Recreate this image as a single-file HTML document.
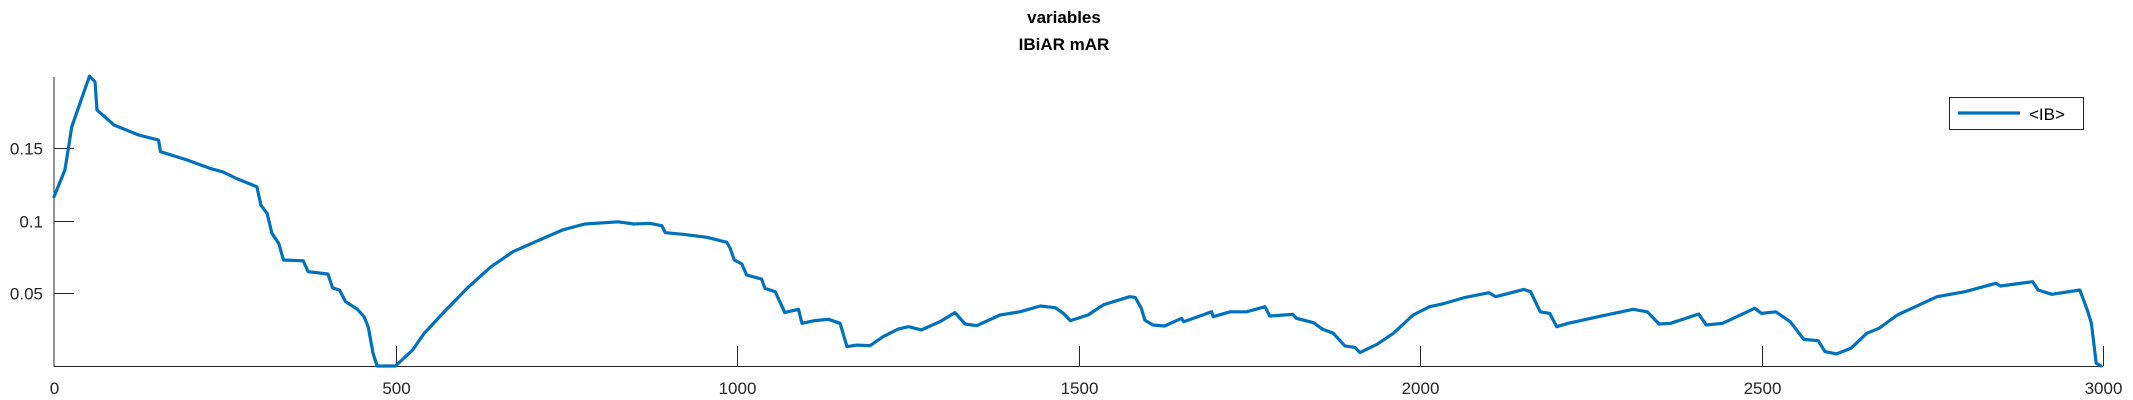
<!DOCTYPE html>
<html><head><meta charset="utf-8"><style>
html,body{margin:0;padding:0;background:#fff;}
svg{display:block;font-family:"Liberation Sans",sans-serif;}
</style></head><body>
<svg id="chart" width="2133" height="400" viewBox="0 0 2133 400" xmlns="http://www.w3.org/2000/svg">
<text x="1064" y="23" text-anchor="middle" font-size="17" font-weight="bold" fill="#000">variables</text>
<text x="1064" y="50" text-anchor="middle" font-size="17" font-weight="bold" fill="#000">IBiAR mAR</text>
<g id="axes"></g>
<path id="series" fill="none" stroke="#0072BD" stroke-width="3.2" stroke-linejoin="round" stroke-linecap="round"/>
<g>
<rect x="1949.5" y="97.5" width="134" height="32" fill="#fff" stroke="#262626" stroke-width="1"/>
<line x1="1958" y1="113" x2="2020" y2="113" stroke="#0072BD" stroke-width="3.2"/>
<text x="2029" y="120" font-size="17" fill="#000">&lt;IB&gt;</text>
</g>
</svg>
<script>
const xTicks = [0, 500, 1000, 1500, 2000, 2500, 3000];
const yTicks = [0.05, 0.1, 0.15];
const yTickLabels = ["0.05", "0.1", "0.15"];
const seriesX = [0,16,26,52,60,63,88,124,153,156,195,228,247,267,297,303,312,319,329,336,365,372,401,408,418,427,444,454,460,467,473,500,525,542,574,607,640,672,705,744,777,826,849,873,890,895,921,956,985,990,996,1007,1014,1036,1041,1056,1070,1090,1095,1114,1134,1151,1161,1175,1195,1214,1236,1251,1270,1297,1319,1334,1351,1385,1414,1444,1466,1478,1488,1514,1536,1575,1583,1592,1597,1609,1626,1651,1654,1695,1697,1722,1746,1773,1780,1814,1819,1844,1858,1873,1890,1905,1912,1937,1961,1990,2014,2032,2066,2101,2111,2152,2162,2176,2190,2200,2217,2261,2312,2333,2350,2367,2408,2419,2443,2490,2500,2521,2542,2562,2583,2593,2610,2631,2654,2672,2699,2757,2798,2843,2850,2897,2905,2925,2966,2977,2983,2990,2997];
const seriesY = [0.1164,0.1348,0.1646,0.1994,0.1955,0.176,0.1657,0.1589,0.1554,0.1474,0.1417,0.136,0.1336,0.129,0.1233,0.1107,0.105,0.0913,0.0844,0.0729,0.0724,0.0649,0.0633,0.0536,0.0523,0.0442,0.0391,0.0339,0.027,0.0089,0,0,0.011,0.0225,0.0385,0.0545,0.0683,0.0786,0.0855,0.0935,0.0977,0.0992,0.0977,0.0981,0.0965,0.0917,0.0906,0.0885,0.0851,0.0809,0.0729,0.0702,0.0626,0.0598,0.0534,0.0511,0.0367,0.039,0.0294,0.0312,0.0321,0.0294,0.0133,0.0144,0.014,0.0202,0.0254,0.027,0.0248,0.0305,0.0367,0.0289,0.0277,0.0351,0.0373,0.0413,0.0401,0.0362,0.0312,0.0351,0.042,0.0477,0.0472,0.0397,0.0316,0.0282,0.0275,0.0328,0.0305,0.0373,0.0339,0.0373,0.0373,0.0408,0.0344,0.0355,0.0328,0.0298,0.0252,0.0225,0.0138,0.0128,0.0092,0.0149,0.0225,0.0351,0.0408,0.0426,0.0472,0.0504,0.0477,0.0527,0.0511,0.0373,0.0362,0.027,0.0294,0.0339,0.039,0.0373,0.0289,0.0294,0.0358,0.0282,0.0294,0.0397,0.0362,0.0373,0.0305,0.0183,0.0174,0.0099,0.0083,0.0122,0.0225,0.0259,0.0351,0.0477,0.0511,0.0569,0.055,0.058,0.0523,0.0493,0.0523,0.0385,0.0294,0.0019,0];

const X0 = 54, X1 = 2103, Y0 = 366, YTOP = 77;
const xMax = 3000, yMax = 0.1988;
const sx = v => X0 + v / xMax * (X1 - X0);
const sy = v => Y0 - v / yMax * (Y0 - YTOP);
const NS = "http://www.w3.org/2000/svg";
const axes = document.getElementById('axes');
function mk(tag, attrs) { const e = document.createElementNS(NS, tag); for (const k in attrs) e.setAttribute(k, attrs[k]); axes.appendChild(e); return e; }

let el = mk('line', {x1: X0, y1: YTOP, x2: X0, y2: Y0 + 0.5, stroke: '#262626', 'stroke-width': 1});


el = mk('line', {x1: X0, y1: Y0 + 0.5, x2: X1, y2: Y0 + 0.5, stroke: '#262626', 'stroke-width': 1});



xTicks.forEach(t => {
  const x = Math.round(sx(t)) + 0.5;
  if (t !== 0) {
    const tk = mk('line', {x1: x, y1: Y0, x2: x, y2: Y0 - 20, stroke: '#262626', 'stroke-width': 1});
    
    
  }
  const lb = mk('text', {x: x, y: 394, 'text-anchor': 'middle', 'font-size': 17, fill: '#262626'});
  lb.textContent = String(t);
  
  
});
yTicks.forEach((t, i) => {
  const y = Math.round(sy(t)) + 0.5;
  const tk = mk('line', {x1: X0, y1: y, x2: X0 + 20, y2: y, stroke: '#262626', 'stroke-width': 1});
  
  
  const lb = mk('text', {x: 43, y: y + 6, 'text-anchor': 'end', 'font-size': 17, fill: '#262626'});
  lb.textContent = yTickLabels[i];
  
  
});

let d = '';
seriesX.forEach((v, i) => { d += (i ? 'L' : 'M') + sx(v).toFixed(1) + ',' + sy(seriesY[i]).toFixed(1); });
document.getElementById('series').setAttribute('d', d);
</script>
</body></html>
